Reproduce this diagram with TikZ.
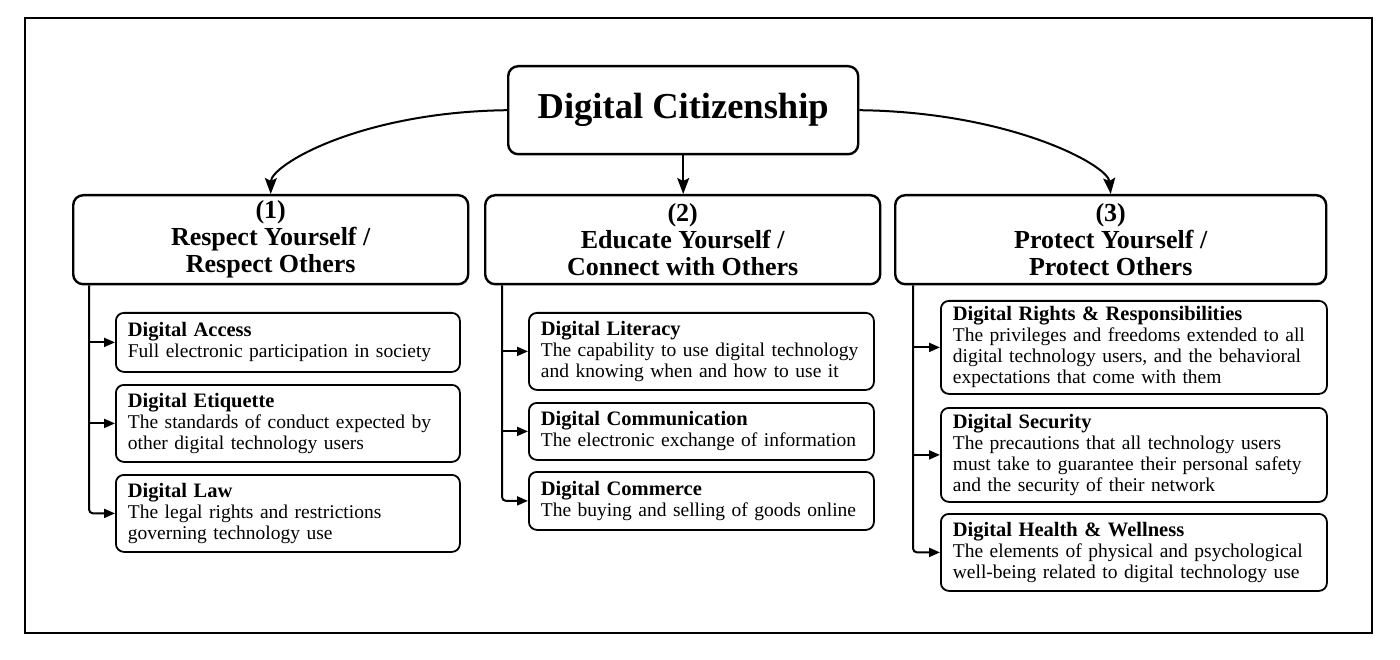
\documentclass[tikz,border=0pt]{standalone}
\usepackage{fontspec}
\setmainfont{Liberation Serif}
\usetikzlibrary{arrows.meta}
\newcommand{\ttl}[1]{{\fontsize{20.5}{21}\selectfont\bfseries #1}}
\newcommand{\Lx}[1]{\mbox{#1}}
\begin{document}
\begin{tikzpicture}[x=1pt,y=-1pt,
  rootbox/.style={draw, line width=2.4pt, rounded corners=10pt, inner sep=0pt, anchor=north west, font=\fontsize{36.5}{40}\selectfont\bfseries},
  headbox/.style={draw, line width=2.4pt, rounded corners=10pt, inner sep=0pt, align=center, anchor=north west, font=\fontsize{26}{27}\selectfont\bfseries},
  itembox/.style={draw, line width=1.8pt, rounded corners=8pt, inner xsep=12pt, inner ysep=0pt, align=left, anchor=north west, font=\fontsize{19.5}{21}\selectfont},
  bigarr/.style={-{Stealth[length=16pt,width=12pt,inset=3pt]}, line width=2pt},
  smallarr/.style={-{Triangle[length=11pt,width=9pt]}, line width=2pt}]
\useasboundingbox (0,0) rectangle (1400,660);
\draw[line width=1.5pt] (25,18) rectangle (1372,633);

\node[rootbox, minimum width=350pt, minimum height=88pt] (root) at (507,65) {Digital Citizenship};

\node[headbox, minimum width=395pt, minimum height=89pt] (h1) at (72,194) {(1)\\Respect Yourself /\\Respect Others};
\node[headbox, minimum width=395pt, minimum height=89pt] (h2) at (484,194) {(2)\\Educate Yourself /\\Connect with Others};
\node[headbox, minimum width=431pt, minimum height=89pt] (h3) at (894,194) {(3)\\Protect Yourself /\\Protect Others};

\draw[bigarr] (root.west) .. controls (360,112) and (271,165) .. (h1.north);
\draw[bigarr] (root.south) -- (root.south |- h2.north);
\draw[bigarr] (root.east) .. controls (1010,112) and (1108,165) .. (h3.north);

% column 1
\node[itembox, text width=320pt, minimum height=59pt] (acc) at (115,312) {\ttl{Digital Access}\\\Lx{Full electronic participation in society}};
\node[itembox, text width=320pt, minimum height=77pt] (eti) at (115,384) {\ttl{Digital Etiquette}\\\Lx{The standards of conduct expected by}\\\Lx{other digital technology users}};
\node[itembox, text width=320pt, minimum height=77pt] (law) at (115,474) {\ttl{Digital Law}\\\Lx{The legal rights and restrictions}\\\Lx{governing technology use}};

% column 2
\node[itembox, text width=321pt, minimum height=77pt] (lit) at (528,312) {\ttl{Digital Literacy}\\\Lx{The capability to use digital technology}\\\Lx{and knowing when and how to use it}};
\node[itembox, text width=321pt, minimum height=57pt] (com) at (528,402) {\ttl{Digital Communication}\\\Lx{The electronic exchange of information}};
\node[itembox, text width=321pt, minimum height=58pt] (cmc) at (528,471) {\ttl{Digital Commerce}\\\Lx{The buying and selling of goods online}};

% column 3
\node[itembox, text width=362pt, minimum height=93pt] (rig) at (940,300) {\ttl{Digital Rights \& Responsibilities}\\\Lx{The privileges and freedoms extended to all}\\\Lx{digital technology users, and the behavioral}\\\Lx{expectations that come with them}};
\node[itembox, text width=362pt, minimum height=94pt] (sec) at (940,407) {\ttl{Digital Security}\\\Lx{The precautions that all technology users}\\\Lx{must take to guarantee their personal safety}\\\Lx{and the security of their network}};
\node[itembox, text width=362pt, minimum height=77pt] (hea) at (940,513) {\ttl{Digital Health \& Wellness}\\\Lx{The elements of physical and psychological}\\\Lx{well-being related to digital technology use}};

\coordinate (v1) at ([xshift=17pt]h1.south west);
\coordinate (v2) at ([xshift=18pt]h2.south west);
\coordinate (v3) at ([xshift=19pt]h3.south west);

\draw[smallarr] (v1 |- acc.west) -- (acc.west);
\draw[smallarr] (v1 |- eti.west) -- (eti.west);
\draw[smallarr, rounded corners=4pt] (v1) |- (law.west);

\draw[smallarr] (v2 |- lit.west) -- (lit.west);
\draw[smallarr] (v2 |- com.west) -- (com.west);
\draw[smallarr, rounded corners=4pt] (v2) |- (cmc.west);

\draw[smallarr] (v3 |- rig.west) -- (rig.west);
\draw[smallarr] (v3 |- sec.west) -- (sec.west);
\draw[smallarr, rounded corners=4pt] (v3) |- (hea.west);
\end{tikzpicture}
\end{document}
